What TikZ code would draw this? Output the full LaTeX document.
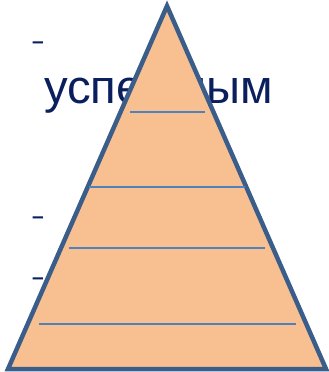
\documentclass[tikz,border=0pt]{standalone}
\usepackage{fontspec}
\setmainfont{Liberation Sans}
\usepackage{tikz}
\definecolor{PyrFill}{HTML}{F8C091}
\definecolor{PyrEdge}{HTML}{3A5D8A}
\definecolor{PyrLine}{HTML}{4F81BD}
\definecolor{TxtNavy}{HTML}{0B1F5F}

\begin{document}
\begin{tikzpicture}[x=1pt,y=-1pt]
  \tikzstyle{bullet}=[anchor=base west,inner sep=0pt,text=TxtNavy,
    font=\fontsize{21}{21}\selectfont\bfseries]
  \tikzstyle{tier}=[draw=PyrLine,line width=1.6pt]
  \useasboundingbox (0,0) rectangle (329,372);
  % text behind the pyramid
  \node[bullet] (d1) at (32,48.5) {–};
  \node[anchor=base west,inner sep=0pt,text=TxtNavy,
    font=\fontsize{47.3}{48}\selectfont] (word) at (44,103) {успешным};
  \node[bullet] (d2) at (32,223) {–};
  \node[bullet] (d3) at (32,284) {–};
  % pyramid
  \coordinate (top) at (167,6);
  \coordinate (bl) at (8,369);
  \coordinate (br) at (326,369);
  \draw[fill=PyrFill,draw=PyrEdge,line width=4.5pt,line join=miter]
    (top) -- (br) -- (bl) -- cycle;
  \draw[tier] (130,112) -- (205,112);
  \draw[tier] (89,187) -- (245,187);
  \draw[tier] (69,248) -- (265,248);
  \draw[tier] (39,324) -- (296,324);
\end{tikzpicture}
\end{document}
